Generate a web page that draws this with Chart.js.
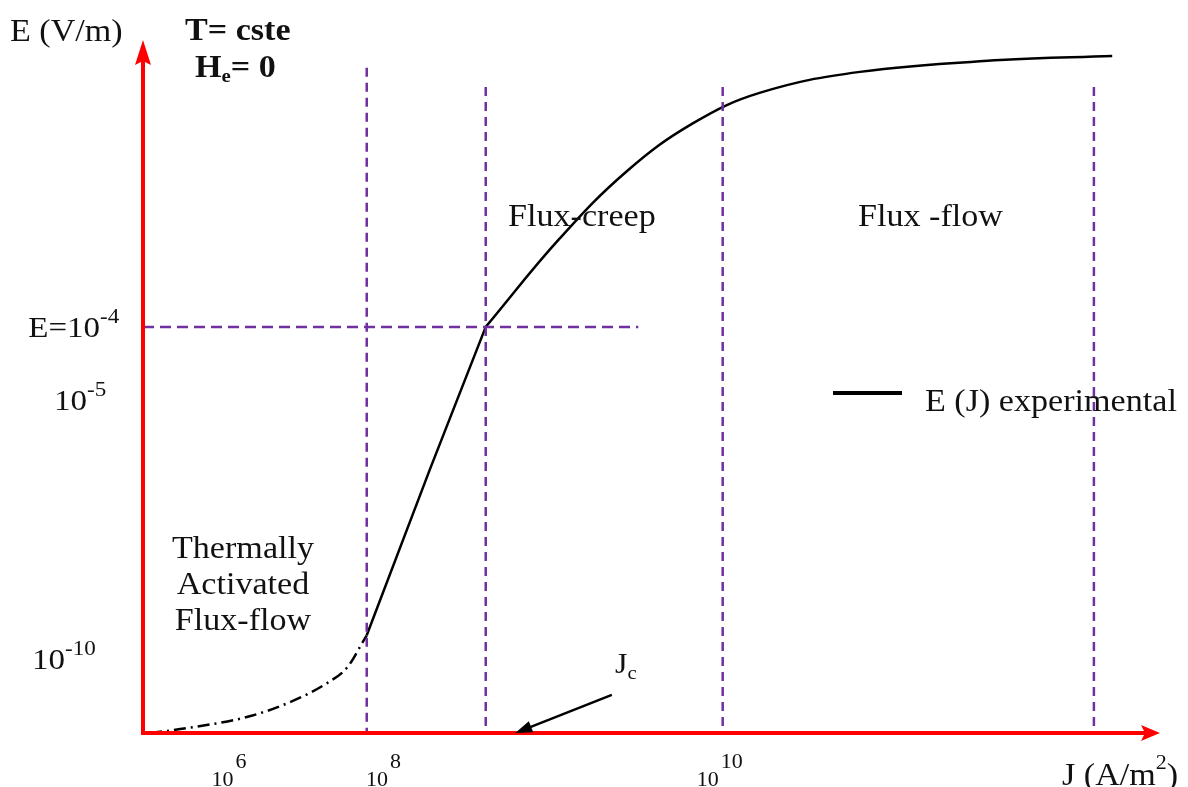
<!DOCTYPE html>
<html>
<head>
<meta charset="utf-8">
<script src="https://cdn.jsdelivr.net/npm/chart.js@4.4.1/dist/chart.umd.min.js"></script>
<style>
html,body{margin:0;padding:0;background:#fff;}
#wrap{width:1188px;height:787px;position:relative;}
</style>
</head>
<body>
<div id="wrap"><canvas id="c"></canvas></div>
<script>
// Schematic E(J) characteristic, both axes in schematic units 0..100
const thermalJ = [0.7, 4.3, 10.2, 14.2, 18.1, 20.1, 21.6, 22.0];
const thermalE = [0.0, 0.7, 2.3, 4.3, 7.2, 9.5, 13.1, 14.1];
const creepJ   = [22.0, 28.2, 33.7];
const creepE   = [14.1, 38.0, 58.6];
const flowJ    = [33.7, 41.0, 47.6, 54.1, 60.7, 70.5, 84.3, 95.3];
const flowE    = [58.6, 71.4, 81.1, 88.0, 92.4, 95.4, 97.1, 97.7];
const boundaryJ    = [22.0, 33.7, 57.0, 93.5];
const boundaryTopE = [96.0, 93.2, 93.2, 93.2];
const criterionE = 58.6;
const criterionEndJ = 48.7;
const xTickJ   = [9.0, 24.2, 56.7];
const xTickExp = ['6', '8', '10'];
const yTickE      = [58.6, 48.1, 10.7];
const yTickBase   = ['E=10', '10', '10'];
const yTickExp    = ['-4', '-5', '-10'];
const jcJ = 36.6;
const jcTail = [46.1, 5.5];

const PURPLE = '#7030a0';
const SERIF = '"Liberation Serif", "Times New Roman", serif';
const SX = 1.1;
const DY = 3;

function pts(xs, ys){ return xs.map((x,i)=>({x:x, y:ys[i]})); }

const datasets = [
  {label:'thermal', data: pts(thermalJ, thermalE), borderColor:'#000', borderWidth:2.5,
   borderDash:[12,5,2,5], cubicInterpolationMode:'monotone'},
  {label:'E (J) experimental', data: pts(creepJ, creepE), borderColor:'#000', borderWidth:2.5,
   tension:0},
  {label:'E (J) experimental', data: pts(flowJ, flowE), borderColor:'#000', borderWidth:2.5,
   tension:0.4}
];
boundaryJ.forEach((b,i)=>{
  datasets.unshift({label:'boundary', data:[{x:b,y:boundaryTopE[i]},{x:b,y:0}],
    borderColor:PURPLE, borderWidth:2.5, borderDash:[9,6]});
});
datasets.unshift({label:'criterion', data:[{x:0,y:criterionE},{x:criterionEndJ,y:criterionE}],
  borderColor:PURPLE, borderWidth:2.5, borderDash:[11,6]});
datasets.forEach(d=>{ d.showLine=true; d.pointRadius=0; d.fill=false; d.clip=false; });

function txt(ctx, s, x, y, font, align){
  ctx.save();
  ctx.font = font;
  ctx.textAlign = 'left';
  ctx.textBaseline = 'middle';
  const w = ctx.measureText(s).width * SX;
  let x0 = x;
  if(align==='center') x0 = x - w/2;
  if(align==='right') x0 = x - w;
  ctx.translate(x0, y + DY);
  ctx.scale(SX, 1);
  ctx.fillText(s, 0, 0);
  ctx.restore();
  return x0 + w;
}

const overlay = {
  id:'overlay',
  afterDatasetsDraw(chart){
    const ctx = chart.ctx, xs = chart.scales.x, ys = chart.scales.y;
    const X = v=>xs.getPixelForValue(v), Y = v=>ys.getPixelForValue(v);
    ctx.save();
    // red axes
    ctx.strokeStyle = '#ff0000'; ctx.fillStyle = '#ff0000'; ctx.lineWidth = 4;
    ctx.beginPath(); ctx.moveTo(X(0), Y(0)); ctx.lineTo(X(0), Y(100)+20); ctx.stroke();
    ctx.beginPath(); ctx.moveTo(X(0)-2, Y(0)); ctx.lineTo(X(100)-14, Y(0)); ctx.stroke();
    ctx.beginPath(); ctx.moveTo(X(0), Y(100)); ctx.lineTo(X(0)-8, Y(100)+25); ctx.lineTo(X(0), Y(100)+21); ctx.lineTo(X(0)+8, Y(100)+25); ctx.closePath(); ctx.fill();
    ctx.beginPath(); ctx.moveTo(X(100), Y(0)); ctx.lineTo(X(100)-19, Y(0)-8); ctx.lineTo(X(100)-15, Y(0)); ctx.lineTo(X(100)-19, Y(0)+8); ctx.closePath(); ctx.fill();

    // Jc arrow
    ctx.strokeStyle = '#000'; ctx.fillStyle = '#000'; ctx.lineWidth = 2.5;
    const tx = X(jcJ), ty = Y(0), sx0 = X(jcTail[0]), sy0 = Y(jcTail[1]);
    const ang = Math.atan2(ty-sy0, tx-sx0);
    ctx.beginPath(); ctx.moveTo(sx0, sy0); ctx.lineTo(tx - 12*Math.cos(ang), ty - 12*Math.sin(ang)); ctx.stroke();
    ctx.beginPath(); ctx.moveTo(tx, ty);
    ctx.lineTo(tx - 17*Math.cos(ang) + 6*Math.sin(ang), ty - 17*Math.sin(ang) - 6*Math.cos(ang));
    ctx.lineTo(tx - 17*Math.cos(ang) - 6*Math.sin(ang), ty - 17*Math.sin(ang) + 6*Math.cos(ang));
    ctx.closePath(); ctx.fill();

    // legend
    ctx.lineWidth = 4; ctx.beginPath(); ctx.moveTo(833, 393); ctx.lineTo(902, 393); ctx.stroke();

    ctx.fillStyle = '#111';
    const F = s=>s + 'px ' + SERIF, B = s=>'bold ' + s + 'px ' + SERIF;
    txt(ctx, 'E (J) experimental', 925, 400, F(31), 'left');

    // titles
    txt(ctx, 'E (V/m)', 10, 30, F(31), 'left');
    txt(ctx, 'T= cste', 185, 29, B(31), 'left');
    let e = txt(ctx, 'H', 195, 66, B(31), 'left');
    e = txt(ctx, 'e', e, 74, B(19), 'left');
    txt(ctx, '= 0', e, 66, B(31), 'left');

    // region labels
    txt(ctx, 'Flux-creep', 508, 215, F(31), 'left');
    txt(ctx, 'Flux -flow', 858, 215, F(31), 'left');
    ['Thermally','Activated','Flux-flow'].forEach((s,i)=>txt(ctx, s, 243, 547 + i*36, F(31), 'center'));

    // Jc label
    e = txt(ctx, 'J', 615, 662, F(29), 'left');
    txt(ctx, 'c', e, 671, F(19), 'left');

    // y tick labels
    const yAnchor = [100, 87, 65];
    yTickE.forEach((v,i)=>{
      const yy = Y(v);
      txt(ctx, yTickBase[i], yAnchor[i], yy - 1, F(30), 'right');
      txt(ctx, yTickExp[i], yAnchor[i], yy - 12, F(21), 'left');
    });
    // x tick labels
    xTickJ.forEach((v,i)=>{
      const xx = X(v);
      txt(ctx, '10', xx - 1, 778, F(20), 'right');
      txt(ctx, xTickExp[i], xx + 1, 760, F(20), 'left');
    });
    // x axis title
    e = txt(ctx, 'J (A/m', 1062, 774, F(31), 'left');
    e = txt(ctx, '2', e, 761, F(20), 'left');
    txt(ctx, ')', e, 774, F(31), 'left');
    ctx.restore();
  }
};

new Chart(document.getElementById('c'), {
  type:'scatter',
  data:{datasets:datasets},
  options:{
    responsive:true, maintainAspectRatio:false, animation:false,
    layout:{padding:{left:143, right:28, top:40, bottom:54}},
    plugins:{legend:{display:false}, tooltip:{enabled:false}},
    scales:{
      x:{type:'linear', min:0, max:100, display:false},
      y:{type:'linear', min:0, max:100, display:false}
    }
  },
  plugins:[overlay]
});
</script>
</body>
</html>
